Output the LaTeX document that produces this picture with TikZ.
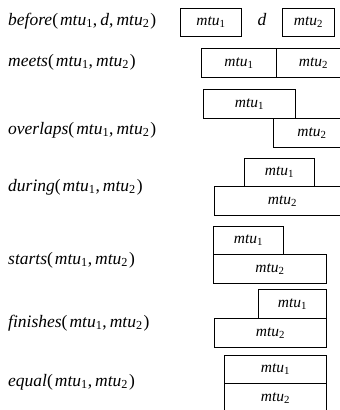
\documentclass[tikz,border=0pt]{standalone}
\usepackage{fontspec}
\setmainfont{Liberation Serif}
\newcommand{\mtu}[1]{\textit{mtu}\textsubscript{#1}}
\newcommand{\cm}{,\hspace{3pt}}
\newcommand{\op}{(\hspace{2pt}}
\newcommand{\cp}{\hspace{1pt})}
\begin{document}
\begin{tikzpicture}[x=1pt,y=-1pt,
  box/.style={draw, line width=0.8pt, inner sep=0pt, anchor=north west, font=\fontsize{15.5}{15.5}\selectfont},
  lab/.style={anchor=west, inner sep=0pt, font=\fontsize{17.5}{17.5}\selectfont}]
\useasboundingbox (0,0) rectangle (340,410);
\clip (0,0) rectangle (340,410);
% labels
\node[lab] (l1) at (8,21) {\textit{before}\op\mtu{1}\cm\textit{d}\cm\mtu{2}\cp};
\node[lab] (l2) at (8,62) {\textit{meets}\op\mtu{1}\cm\mtu{2}\cp};
\node[lab] (l3) at (8,130) {\textit{overlaps}\op\mtu{1}\cm\mtu{2}\cp};
\node[lab] (l4) at (8,187) {\textit{during}\op\mtu{1}\cm\mtu{2}\cp};
\node[lab] (l5) at (8,260) {\textit{starts}\op\mtu{1}\cm\mtu{2}\cp};
\node[lab] (l6) at (8,323) {\textit{finishes}\op\mtu{1}\cm\mtu{2}\cp};
\node[lab] (l7) at (8,382) {\textit{equal}\op\mtu{1}\cm\mtu{2}\cp};
% before
\node[box, minimum width=61, minimum height=28] (a1) at (180,8) {\mtu{1}};
\node[inner sep=0pt, font=\fontsize{17.5}{17.5}\selectfont] (ad) at (262,20) {\textit{d}};
\node[box, minimum width=52, minimum height=28] (a2) at (282,8) {\mtu{2}};
% meets
\node[box, minimum width=75, minimum height=29] (b1) at (201,48) {\mtu{1}};
\node[box, minimum width=74, minimum height=29] (b2) at (276,48) {\mtu{2}};
% overlaps
\node[box, minimum width=92, minimum height=29] (c1) at (203,89) {\mtu{1}};
\node[box, minimum width=77, minimum height=29] (c2) at (273,118) {\mtu{2}};
% during
\node[box, minimum width=70, minimum height=28] (e1) at (244,158) {\mtu{1}};
\node[box, minimum width=136, minimum height=29] (e2) at (214,186) {\mtu{2}};
% starts
\node[box, minimum width=70, minimum height=28] (f1) at (213,226) {\mtu{1}};
\node[box, minimum width=113, minimum height=29] (f2) at (213,254) {\mtu{2}};
% finishes
\node[box, minimum width=68, minimum height=29] (g1) at (258,289) {\mtu{1}};
\node[box, minimum width=112, minimum height=29] (g2) at (214,318) {\mtu{2}};
% equal
\node[box, minimum width=102, minimum height=28] (h1) at (224,355) {\mtu{1}};
\node[box, minimum width=102, minimum height=29] (h2) at (224,383) {\mtu{2}};
\end{tikzpicture}
\end{document}
